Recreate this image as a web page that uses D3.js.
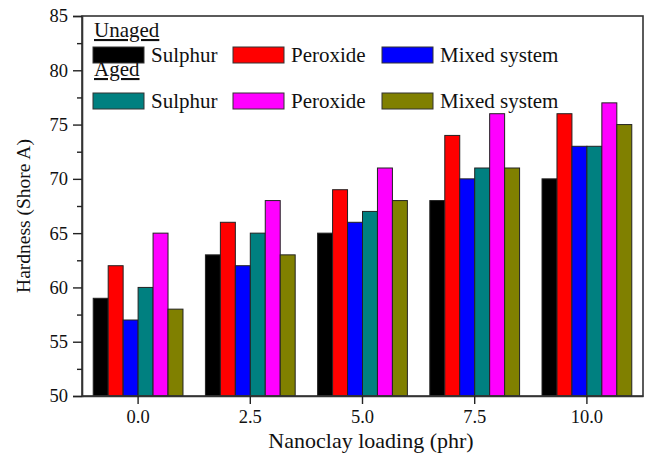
<!DOCTYPE html>
<html>
<head>
<meta charset="utf-8">
<script src="https://cdn.jsdelivr.net/npm/d3@7"></script>
<style>
  body { margin: 0; background: #fff; }
</style>
</head>
<body>
<div id="chart"></div>
<script>
// chart data
const loadings = ["0.0", "2.5", "5.0", "7.5", "10.0"];
const seriesNames = ["Unaged Sulphur", "Unaged Peroxide", "Unaged Mixed system",
                     "Aged Sulphur", "Aged Peroxide", "Aged Mixed system"];
const seriesColors = ["#000000", "#ff0000", "#0000ff", "#008080", "#ff00ff", "#808000"];
const unagedSulphur  = [59, 63, 65, 68, 70];
const unagedPeroxide = [62, 66, 69, 74, 76];
const unagedMixed    = [57, 62, 66, 70, 73];
const agedSulphur    = [60, 65, 67, 71, 73];
const agedPeroxide   = [65, 68, 71, 76, 77];
const agedMixed      = [58, 63, 68, 71, 75];
const yTicks = [50, 55, 60, 65, 70, 75, 80, 85];

const allSeries = [unagedSulphur, unagedPeroxide, unagedMixed, agedSulphur, agedPeroxide, agedMixed];

// font set as a plain attribute (no quotes) so it survives serialisation
const FONT = "Liberation Serif, Times New Roman, serif";
const width = 645, height = 454;
const margin = {left: 82, right: 2, top: 16, bottom: 58};

const svg = d3.select("#chart").append("svg")
    .attr("width", width)
    .attr("height", height)
    .attr("font-family", FONT);

const x0 = d3.scaleBand()
    .domain(loadings)
    .range([margin.left, width - margin.right])
    .paddingInner(0.2)
    .paddingOuter(0.1);

const x1 = d3.scaleBand()
    .domain(seriesNames)
    .range([0, x0.bandwidth()]);

const y = d3.scaleLinear()
    .domain([50, 85])
    .range([height - margin.bottom, margin.top]);

// bars
const groups = svg.append("g")
    .selectAll("g")
    .data(loadings)
    .join("g")
    .attr("transform", (d) => `translate(${x0(d)},0)`);

groups.selectAll("rect")
    .data((d, i) => seriesNames.map((s, j) => ({series: s, color: seriesColors[j], value: allSeries[j][i]})))
    .join("rect")
        .attr("x", (d) => x1(d.series))
        .attr("y", (d) => y(d.value))
        .attr("width", x1.bandwidth())
        .attr("height", (d) => y(50) - y(d.value))
        .attr("fill", (d) => d.color)
        .attr("stroke", "#222")
        .attr("stroke-width", 1);

// frame
svg.append("rect")
    .attr("x", margin.left)
    .attr("y", margin.top)
    .attr("width", width - margin.right - margin.left)
    .attr("height", height - margin.bottom - margin.top)
    .attr("fill", "none")
    .attr("stroke", "#333")
    .attr("stroke-width", 1.6);

// y axis
svg.append("g")
    .attr("transform", `translate(${margin.left},0)`)
    .call(d3.axisLeft(y).tickValues(yTicks).tickSize(9).tickPadding(5));
// minor ticks
svg.append("g")
    .attr("transform", `translate(${margin.left},0)`)
    .call(d3.axisLeft(y).tickValues(yTicks.slice(0, -1).map((t) => t + 2.5)).tickSize(5).tickFormat(""))
    .call((g) => g.select(".domain").remove());

// x axis
svg.append("g")
    .attr("transform", `translate(0,${height - margin.bottom})`)
    .call(d3.axisBottom(x0).tickSize(8).tickPadding(6).tickSizeOuter(0));

svg.selectAll("g").attr("font-family", FONT).attr("font-size", null);
svg.selectAll(".tick line").attr("stroke", "#222").attr("stroke-width", 1.4);
svg.selectAll(".domain").attr("stroke", "#333").attr("stroke-width", 1.6);
svg.selectAll(".tick text")
    .attr("font-family", FONT)
    .attr("font-size", 18.5)
    .attr("fill", "#111");

// axis titles
svg.append("text")
    .attr("x", 371)
    .attr("y", 448)
    .attr("text-anchor", "middle")
    .attr("font-family", FONT)
    .attr("font-size", 22)
    .attr("fill", "#111")
    .text("Nanoclay loading (phr)");

svg.append("text")
    .attr("transform", "translate(30,216) rotate(-90)")
    .attr("text-anchor", "middle")
    .attr("font-family", FONT)
    .attr("font-size", 19.5)
    .attr("fill", "#111")
    .text("Hardness (Shore A)");

// legend
const legendCols = [93, 233, 382];
const legendRows = [
    {title: "Unaged", titleY: 37, swatchY: 47, items: [0, 1, 2]},
    {title: "Aged", titleY: 76, swatchY: 93, items: [3, 4, 5]}
];
const shortNames = ["Sulphur", "Peroxide", "Mixed system"];

const legend = svg.append("g");
legendRows.forEach((row) => {
    legend.append("text")
        .attr("x", 94)
        .attr("y", row.titleY)
        .attr("font-family", FONT)
        .attr("font-size", 21)
        .attr("text-decoration", "underline")
        .attr("fill", "#111")
        .text(row.title);
    row.items.forEach((idx, k) => {
        legend.append("rect")
            .attr("x", legendCols[k])
            .attr("y", row.swatchY)
            .attr("width", 51)
            .attr("height", 16)
            .attr("fill", seriesColors[idx])
            .attr("stroke", "#333")
            .attr("stroke-width", 1);
        legend.append("text")
            .attr("x", legendCols[k] + 58)
            .attr("y", row.swatchY + 15)
            .attr("font-family", FONT)
            .attr("font-size", 21)
            .attr("fill", "#111")
            .text(shortNames[k]);
    });
});
</script>
</body>
</html>
